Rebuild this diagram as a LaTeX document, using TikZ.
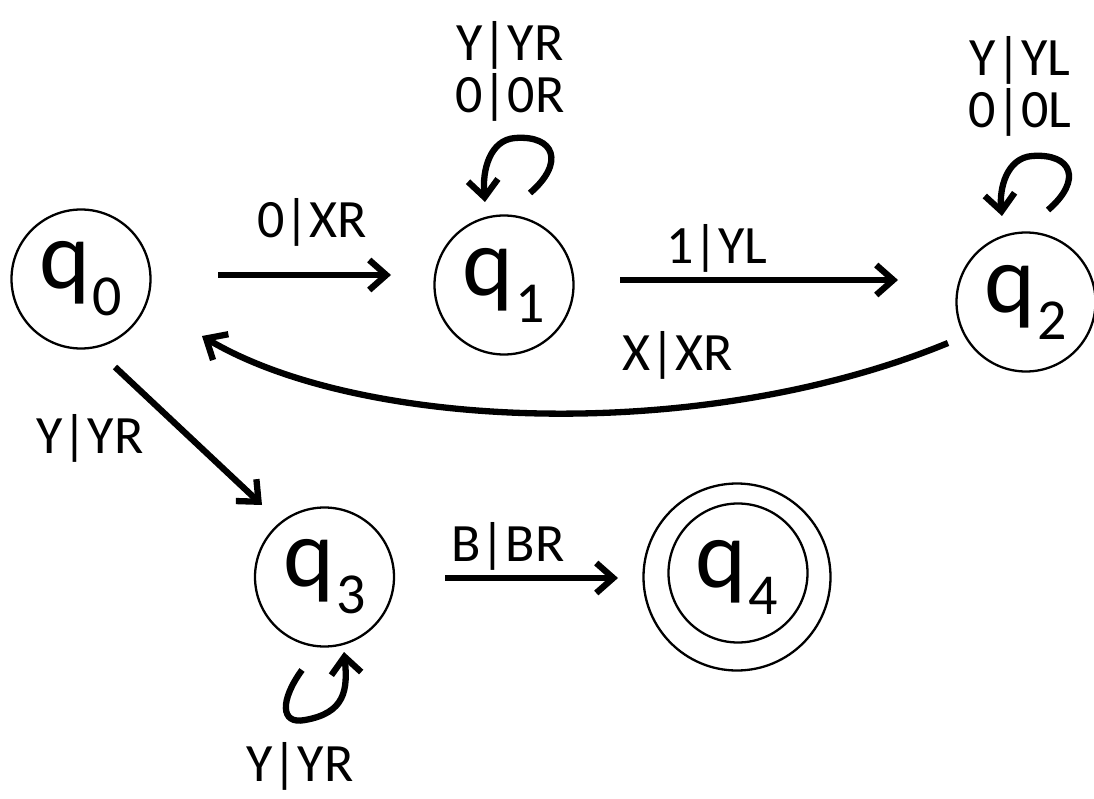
\documentclass[tikz,border=0pt]{standalone}
\usepackage{fontspec}
\setmainfont{Carlito}
\usetikzlibrary{arrows.meta}
\newcommand{\stname}[1]{{\fontsize{97}{97}\selectfont q\kern2pt\raisebox{-27pt}{\fontsize{58}{58}\selectfont #1}}}
\tikzset{
  state/.style={circle,draw,line width=2.3pt,minimum size=139pt,inner sep=0pt},
  arr/.style={line width=6.3pt,-{Straight Barb[length=17pt,width=30pt]}},
  lbl/.style={font=\fontsize{54}{60}\selectfont,inner sep=0pt}
}
\begin{document}
\begin{tikzpicture}[x=1pt,y=-1pt]
\useasboundingbox (0,0) rectangle (1094,799);
\node[state] (q0) at (81,279) {\stname{0}};
\node[state] (q1) at (504,285) {\stname{1}};
\node[state] (q2) at (1026,302) {\stname{2}};
\node[state] (q3) at (324.5,577) {\stname{3}};
\node[state,minimum size=187pt] (q4) at (737,577) {};
\node[state] (q4i) at (738,573) {};
\node (q4t) at (q4) {\stname{4}};
% coordinates
\coordinate (a01) at (218,275); \coordinate (b01) at (391,275);
\coordinate (a12) at (620,280); \coordinate (b12) at (898,280);
\coordinate (a20) at (948,343); \coordinate (b20) at (202,336);
\coordinate (a03) at (115,367); \coordinate (b03) at (262,505);
\coordinate (a34) at (445,578); \coordinate (b34) at (618,578);
\coordinate (l1a) at (530,193); \coordinate (l1b) at (485,202);
\coordinate (l2a) at (1048,210); \coordinate (l2b) at (1002,216);
\coordinate (l3a) at (302,670); \coordinate (l3b) at (344,652);
% edges
\draw[arr] (a01) -- (b01);
\draw[arr] (a12) -- (b12);
\draw[arr] (a20) .. controls (700,445) and (360,430) .. (b20);
\draw[arr] (a03) -- (b03);
\draw[arr] (a34) -- (b34);
% loops
\draw[arr] (l1a) .. controls (565,163) and (555,135) .. (515,138) .. controls (490,140) and (482,170) .. (l1b);
\draw[arr] (l2a) .. controls (1083,180) and (1072,153) .. (1032,156) .. controls (1007,158) and (999,188) .. (l2b);
\draw[arr] (l3a) .. controls (280,700) and (280,725) .. (305,720) .. controls (345,713) and (348,690) .. (l3b);
% labels
\node[lbl] (t01) at (312,222) {0|XR};
\node[lbl] (t12) at (717,248) {1|YL};
\node[lbl] (t20) at (678,355) {X|XR};
\node[lbl] (t03) at (90,438) {Y|YR};
\node[lbl] (t34) at (508,546) {B|BR};
\node[lbl] (t1a) at (510,45) {Y|YR};
\node[lbl] (t1b) at (510,97) {0|0R};
\node[lbl] (t2a) at (1020,60) {Y|YL};
\node[lbl] (t2b) at (1020,112) {0|0L};
\node[lbl] (t3) at (300,766) {Y|YR};
\end{tikzpicture}
\end{document}
